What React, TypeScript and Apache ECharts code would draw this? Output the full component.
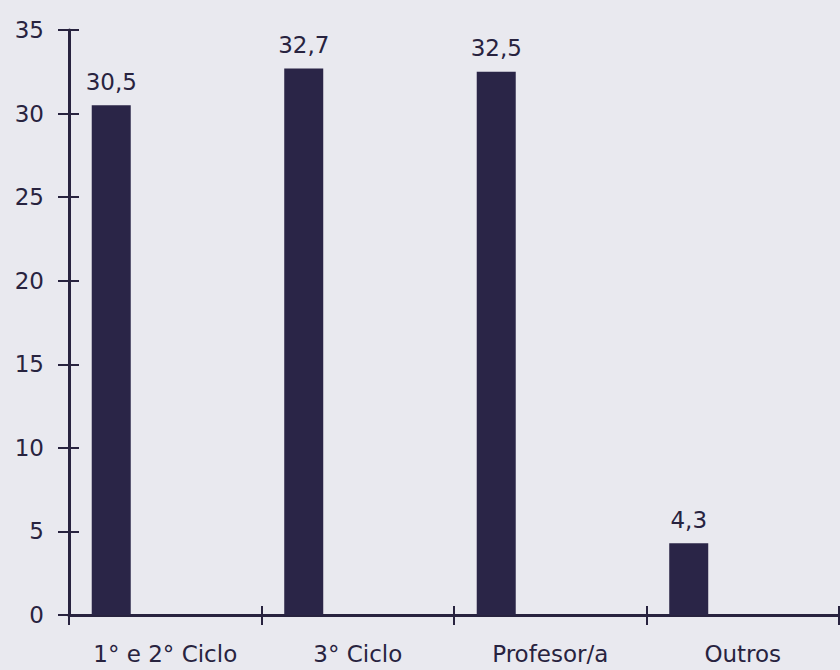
import React, { useEffect, useRef } from "react";
import * as echarts from "echarts";

const categories = ["1° e 2° Ciclo", "3° Ciclo", "Profesor/a", "Outros"];
const values = [30.5, 32.7, 32.5, 4.3];
const spacer = [null, null, null, null];
const yMin = 0;
const yMax = 35;
const yStep = 5;

const INK = "#28233f";
const BAR = "#2a2547";
const FONT = "DejaVu Sans";

export default function App() {
  const ref = useRef<HTMLDivElement>(null);
  useEffect(() => {
    if (!ref.current) return;
    const chart = echarts.init(ref.current, undefined, { renderer: "svg" });
    chart.setOption({
      animation: false,
      backgroundColor: "#e9e9ef",
      grid: { left: 69, right: 1, top: 30, bottom: 55, containLabel: false },
      xAxis: [
        {
          type: "category",
          data: categories,
          axisLine: { show: true, lineStyle: { color: INK, width: 3 } },
          axisTick: { show: true, length: 10, lineStyle: { color: INK, width: 2 } },
          axisLabel: { color: INK, fontSize: 23, fontFamily: FONT, margin: 27 },
          splitLine: { show: false },
        },
        {
          type: "category",
          data: categories,
          position: "bottom",
          axisLine: { show: false },
          axisTick: { show: true, inside: true, length: 9, lineStyle: { color: INK, width: 2 } },
          axisLabel: { show: false },
          splitLine: { show: false },
        },
      ],
      yAxis: [
        {
          type: "value",
          min: yMin,
          max: yMax,
          interval: yStep,
          axisLine: { show: true, lineStyle: { color: INK, width: 3 } },
          axisTick: { show: true, length: 11, lineStyle: { color: INK, width: 2 } },
          axisLabel: { color: INK, fontSize: 23, fontFamily: FONT, margin: 25 },
          splitLine: { show: false },
        },
        {
          type: "value",
          min: yMin,
          max: yMax,
          interval: yStep,
          position: "left",
          axisLine: { show: false },
          axisTick: { show: true, inside: true, length: 10, lineStyle: { color: INK, width: 2 } },
          axisLabel: { show: false },
          splitLine: { show: false },
        },
      ],
      series: [
        {
          type: "bar",
          data: values,
          barWidth: 39,
          barGap: "177%",
          itemStyle: { color: BAR },
          label: {
            show: true,
            position: "top",
            distance: 12,
            color: INK,
            fontSize: 23,
            fontFamily: FONT,
            formatter: (p: any) => String(p.value).replace(".", ","),
          },
        },
        {
          type: "bar",
          data: spacer,
          barWidth: 39,
          itemStyle: { color: BAR },
        },
      ],
    });
    return () => chart.dispose();
  }, []);
  return (
    <div
      ref={ref}
      style={{ position: "fixed", left: 0, top: 0, width: 840, height: 670 }}
    />
  );
}
